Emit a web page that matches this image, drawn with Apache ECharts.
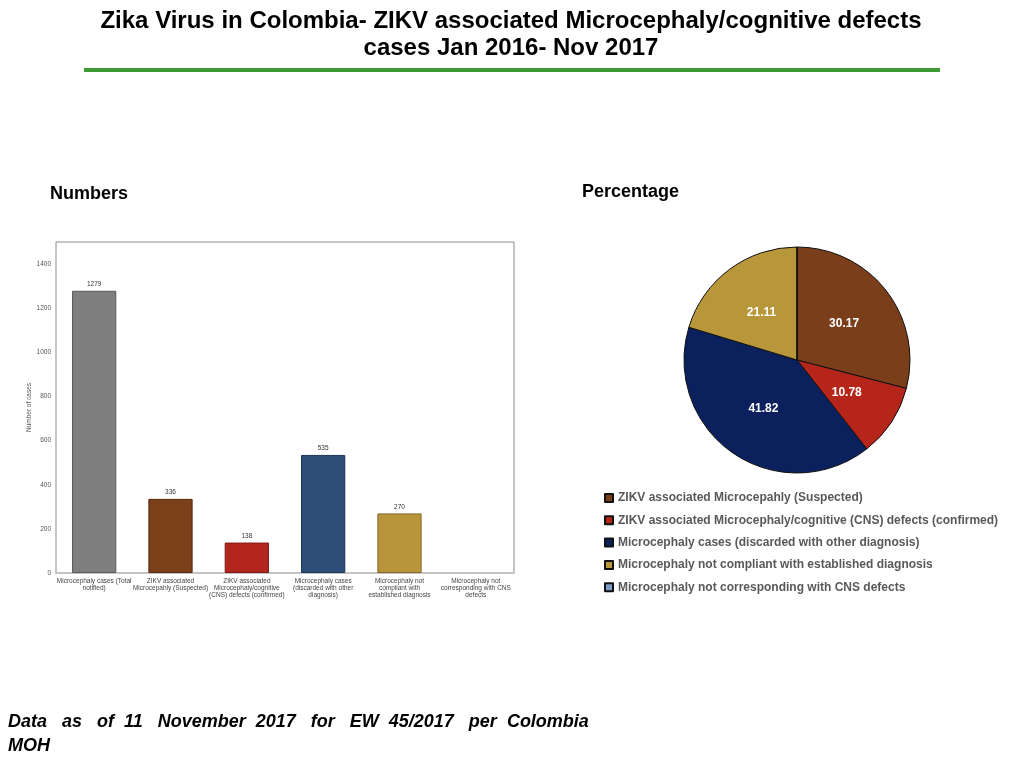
<!DOCTYPE html>
<html>
<head>
<meta charset="utf-8">
<script src="https://cdn.jsdelivr.net/npm/echarts@6/dist/echarts.min.js"></script>
<style>
html,body{margin:0;padding:0;background:#fff;}
#c{width:1024px;height:768px;}
</style>
</head>
<body>
<div id="c"></div>
<script>
var categories = [
  "Microcephaly cases (Total\nnotified)",
  "ZIKV associated\nMicrocepahly (Suspected)",
  "ZIKV associated\nMicrocephaly/cognitive\n(CNS) defects (confirmed)",
  "Microcephaly cases\n(discarded with other\ndiagnosis)",
  "Microcephaly not\ncompliant with\nestablished diagnosis",
  "Microcephaly not\ncorresponding with CNS\ndefects"
];
var barValues = [1279, 336, 138, 535, 270, 0];
var barColors = ["#7f7f7f", "#7b3f19", "#b3261e", "#2c4e78", "#b8943a", "#7a9cc6"];
var barBorders = ["#5a5a5a", "#552a10", "#7e1a14", "#1d3656", "#84692a", "#55708f"];

var pieNames = [
  "ZIKV associated Microcepahly (Suspected)",
  "ZIKV associated Microcephaly/cognitive (CNS) defects (confirmed)",
  "Microcephaly cases (discarded with other diagnosis)",
  "Microcephaly not compliant with established diagnosis",
  "Microcephaly not corresponding with CNS defects"
];
var pieValues = [30.17, 10.78, 41.82, 21.11, 0];
var pieColors = ["#7a3f1a", "#b52519", "#0b215e", "#b8963a", "#7a9cc6"];

var FONT = '"Liberation Sans", Arial, sans-serif';
var chart = echarts.init(document.getElementById('c'));
var option = {
  backgroundColor: '#ffffff',
  animation: false,
  graphic: [
    {type: 'text', x: 511, y: 21,
     style: {text: 'Zika Virus in Colombia- ZIKV associated Microcephaly/cognitive defects',
       font: 'bold 24px "Liberation Sans Narrow", "Liberation Sans", Arial, sans-serif', fill: '#000', align: 'center', verticalAlign: 'middle'}},
    {type: 'text', x: 511, y: 48,
     style: {text: 'cases Jan 2016- Nov 2017',
       font: 'bold 24px "Liberation Sans Narrow", "Liberation Sans", Arial, sans-serif', fill: '#000', align: 'center', verticalAlign: 'middle'}},
    {type: 'rect', shape: {x: 84, y: 68, width: 856, height: 4}, style: {fill: '#3f9a33'}},
    {type: 'text', left: 50, top: 185,
     style: {text: 'Numbers', font: 'bold 18px ' + FONT, fill: '#000'}},
    {type: 'text', left: 582, top: 183,
     style: {text: 'Percentage', font: 'bold 18px ' + FONT, fill: '#000'}},
    {type: 'text', left: 8, top: 710,
     style: {text: 'Data   as   of  11   November  2017   for   EW  45/2017   per  Colombia\nMOH',
       font: 'italic bold 18px ' + FONT, fill: '#000', lineHeight: 24}}
  ],
  grid: {left: 56, right: 510, top: 242, bottom: 195, show: true, borderColor: '#8a8a8a', borderWidth: 1, backgroundColor: '#fff'},
  xAxis: {
    type: 'category', data: categories,
    axisLine: {show: true, lineStyle: {color: '#c4c4c4', width: 2}},
    axisTick: {show: false},
    axisLabel: {interval: 0, fontSize: 6.5, lineHeight: 7, color: '#444', margin: 5, fontFamily: FONT}
  },
  yAxis: {
    type: 'value', min: 0, max: 1500, interval: 200,
    name: 'Number of cases', nameLocation: 'middle', nameGap: 19, nameRotate: 90,
    nameTextStyle: {fontSize: 6.5, color: '#555', fontFamily: FONT},
    axisLine: {show: false}, axisTick: {show: false}, splitLine: {show: false},
    axisLabel: {fontSize: 6.5, color: '#555', margin: 5, showMaxLabel: false, fontFamily: FONT,
      formatter: function (v) { return String(v); }}
  },
  legend: {
    orient: 'vertical', left: 599, top: 486, itemWidth: 8, itemHeight: 8, itemGap: 8.3,
    icon: 'rect', data: pieNames,
    textStyle: {fontSize: 12, fontWeight: 'bold', color: '#595959', lineHeight: 14, fontFamily: FONT}
  },
  series: [
    {
      type: 'bar', barWidth: '58%',
      data: barValues.map(function (v, i) {
        return {value: v, itemStyle: {color: barColors[i], borderColor: barBorders[i], borderWidth: v ? 1 : 0, opacity: v ? 1 : 0}};
      }),
      label: {show: true, position: 'top', distance: 3, fontSize: 6.5, color: '#333', fontFamily: FONT,
        formatter: function (p) { return p.value ? String(p.value) : ''; }}
    },
    {
      type: 'pie', center: [797, 360], radius: 113, startAngle: 90, clockwise: true,
      avoidLabelOverlap: false,
      data: pieValues.map(function (v, i) {
        return {name: pieNames[i], value: v, itemStyle: {color: pieColors[i], borderColor: '#111', borderWidth: 1}};
      }),
      label: {show: true, position: 'inside', color: '#fff', fontSize: 12, fontWeight: 'bold', fontFamily: FONT,
        formatter: function (p) { return p.value ? p.value.toFixed(2) : ''; }},
      labelLine: {show: false},
      emphasis: {disabled: true}
    }
  ]
};
chart.setOption(option);
</script>
</body>
</html>
